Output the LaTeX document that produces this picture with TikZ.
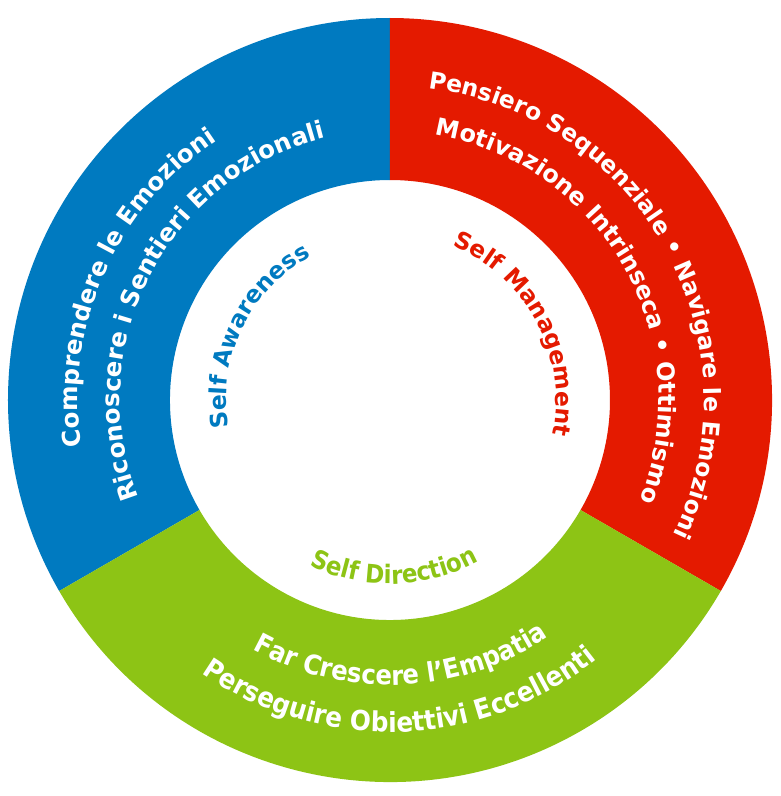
\documentclass[tikz,border=0pt]{standalone}
\usepackage{fontspec}
\usetikzlibrary{decorations.text}
\newfontfamily\rfb{DejaVu Sans Bold}
\newfontfamily\rfc{DejaVu Sans Bold}[FakeStretch=0.9]
\definecolor{cblue}{RGB}{0,122,192}
\definecolor{cred}{RGB}{228,26,0}
\definecolor{cgreen}{RGB}{141,196,21}
% clockwise text (tops outward): radius, mid angle, half span, format, text colour, text
\newcommand\cwarc[6]{%
  \path[decorate,decoration={text along path,text align=center,text color=#5,text={|#4|#6}}]
    (#2+#3:#1) arc[start angle=#2+#3,end angle=#2-#3,radius=#1];}
% counter-clockwise text (tops inward)
\newcommand\ccwarc[6]{%
  \path[decorate,decoration={text along path,text align=center,text color=#5,text={|#4|#6}}]
    (#2-#3:#1) arc[start angle=#2-#3,end angle=#2+#3,radius=#1];}
\tikzset{sector/.style={draw=none}}
\begin{document}
\begin{tikzpicture}
\path[use as bounding box,fill=white] (-390pt,-396pt) rectangle (391pt,400pt);
% ring sectors
\fill[cblue,sector] (90:382pt) arc[start angle=90,end angle=210,radius=382pt]
   -- (210:220pt) arc[start angle=210,end angle=90,radius=220pt] -- cycle;
\fill[cred,sector] (-30:382pt) arc[start angle=-30,end angle=90,radius=382pt]
   -- (90:220pt) arc[start angle=90,end angle=-30,radius=220pt] -- cycle;
\fill[cgreen,sector] (210:382pt) arc[start angle=210,end angle=330,radius=382pt]
   -- (330:220pt) arc[start angle=330,end angle=210,radius=220pt] -- cycle;
% blue texts
\cwarc{312pt}{156.1}{60}{\rfb\fontsize{24.5}{28}\selectfont}{white}{Comprendere le Emozioni}
\cwarc{270pt}{152.5}{65}{\rfb\fontsize{24.5}{28}\selectfont}{white}{Riconoscere i Sentieri Emozionali}
% red texts
\cwarc{314pt}{28.8}{75}{\rfb\fontsize{23.5}{28}\selectfont}{white}{Pensiero Sequenziale • Navigare le Emozioni}
\cwarc{269pt}{29.25}{70}{\rfb\fontsize{24}{28}\selectfont}{white}{Motivazione Intrinseca • Ottimismo}
% green texts
\ccwarc{285pt}{272.5}{55}{\rfc\fontsize{27}{30}\selectfont}{white}{Far Crescere l’Empatia}
\ccwarc{332pt}{272}{55}{\rfc\fontsize{27.5}{30}\selectfont}{white}{Perseguire Obiettivi Eccellenti}
% inner labels
\cwarc{164pt}{154.25}{55}{\rfb\fontsize{23.5}{28}\selectfont}{cblue}{Self Awareness}
\cwarc{166pt}{28}{60}{\rfb\fontsize{23.5}{28}\selectfont}{cred}{Self Management}
\ccwarc{184pt}{271.5}{50}{\rfc\fontsize{25.5}{28}\selectfont}{cgreen}{Self Direction}
\end{tikzpicture}
\end{document}
